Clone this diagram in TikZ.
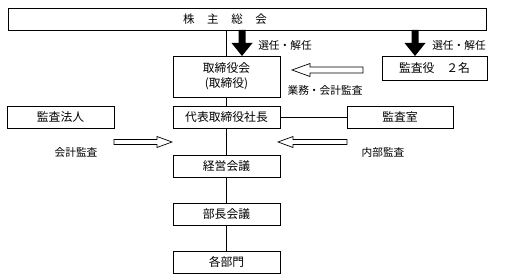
\documentclass[tikz,border=0pt]{standalone}
\usepackage{fontspec}
\setmainfont{Noto Sans CJK JP}
\begin{document}
\begin{tikzpicture}[x=1pt,y=-1pt,
  box/.style={draw,line width=0.8pt,fill=white,inner sep=0pt,font=\fontsize{11.8}{15}\selectfont,minimum width=107pt,minimum height=22pt},
  lbl/.style={inner sep=0pt,font=\fontsize{10.7}{12}\selectfont},
  conn/.style={line width=0.8pt},
  pics/downarrow/.style={code={\fill (-3.5,0) -- (3.5,0) -- (3.5,13) -- (10.5,13) -- (0,26) -- (-10.5,13) -- (-3.5,13) -- cycle;}},
  pics/hollow/.style args={#1/#2/#3/#4}{code={\draw[line width=0.7pt,fill=white] (0,0) -- (#2,-#4) -- (#2,-#3) -- (#1,-#3) -- (#1,#3) -- (#2,#3) -- (#2,#4) -- cycle;}}
]
\useasboundingbox (0,0) rectangle (513,280);
% boxes
\node[box,minimum width=478pt,font=\fontsize{11.5}{14}\selectfont] (gm) at (247,19) {株\hspace{1.1em}主\hspace{1.1em}総\hspace{1.1em}会\hspace*{44pt}};
\node[box,minimum height=41pt,align=center] (tk) at (226.5,76.5) {取締役会\\(取締役)};
\node[box,minimum width=105pt,minimum height=24pt] (ky) at (434.5,68) {監査役\hspace{1em}２名};
\node[box] (hj) at (60.5,117) {監査法人};
\node[box] (dh) at (226.5,117) {代表取締役社長};
\node[box,minimum width=106pt] (ks) at (400,117) {監査室};
\node[box] (kk) at (226.5,166.5) {経営会議};
\node[box] (bc) at (226.5,214) {部長会議};
\node[box] (kb) at (226.5,262) {各部門};
% connectors
\draw[conn] (gm.south -| tk.center) -- (tk.north);
\draw[conn] (tk.south) -- (dh.north);
\draw[conn] (dh.south) -- (kk.north);
\draw[conn] (kk.south) -- (bc.north);
\draw[conn] (bc.south) -- (kb.north);
\draw[conn] (dh.east) -- (ks.west);
% black arrows
\coordinate (a1) at (242,30);
\coordinate (a2) at (415,30);
\pic at (a1) {downarrow};
\pic at (a2) {downarrow};
\node[lbl] (l1) at (285,45) {選任・解任};
\node[lbl] (l2) at (459,45) {選任・解任};
% hollow arrows
\coordinate (h1) at (292,70);
\coordinate (h2) at (172,142);
\coordinate (h3) at (278,142);
\pic at (h1) {hollow={71/18/3/6.5}};
\pic[xscale=-1] at (h2) {hollow={58/15/2.5/5.5}};
\pic at (h3) {hollow={69/15/2.5/5.5}};
\node[lbl] (l3) at (325,90) {業務・会計監査};
\node[lbl] (l4) at (76,152) {会計監査};
\node[lbl] (l5) at (383,152) {内部監査};
\end{tikzpicture}
\end{document}
